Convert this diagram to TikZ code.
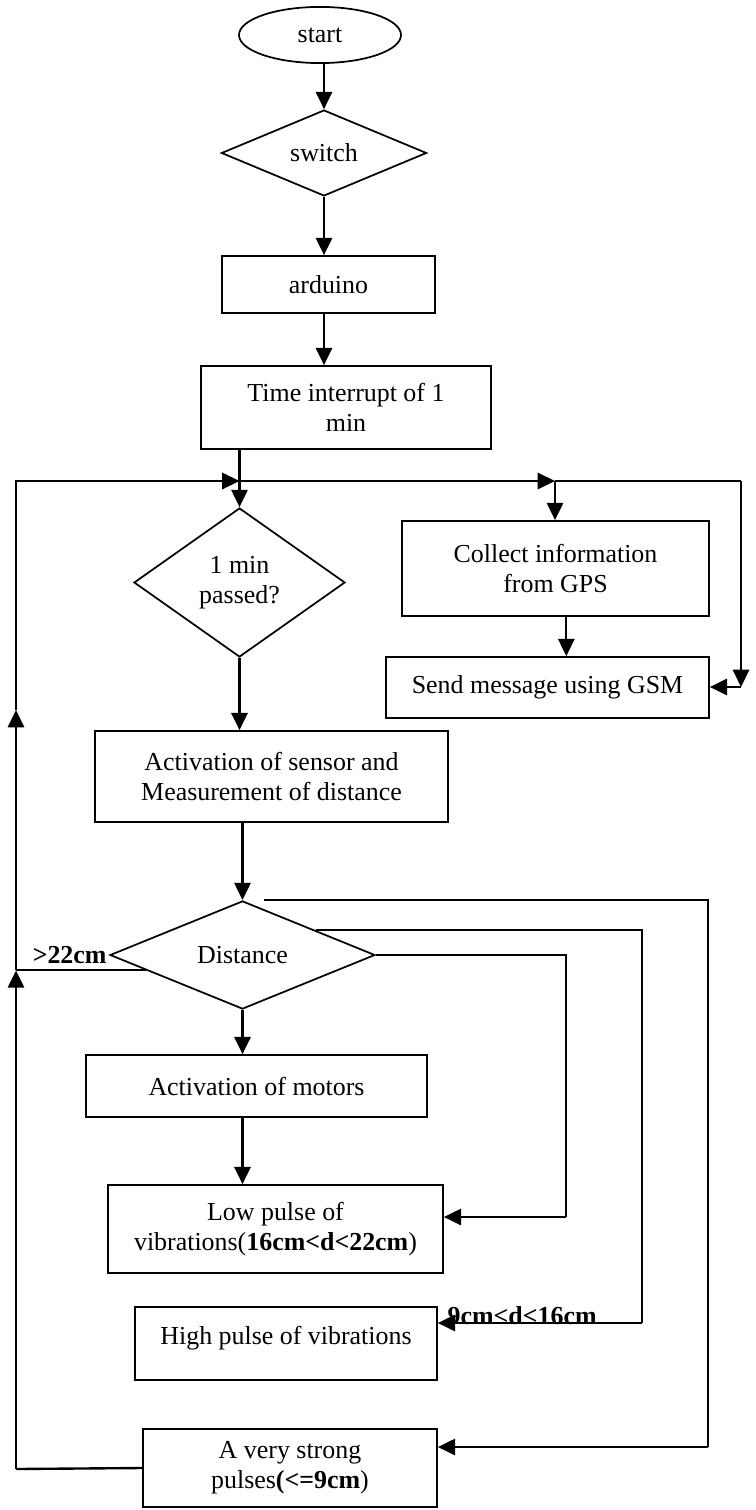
\documentclass[tikz,border=0pt]{standalone}
\usepackage{fontspec}
\setmainfont{Liberation Serif}
\usepackage{tikz}
\usetikzlibrary{arrows.meta,shapes.geometric,calc}

\begin{document}
\begin{tikzpicture}[
  x=0.463pt,y=-0.463pt,
  every node/.style={font=\fontsize{12pt}{13.9pt}\selectfont},
  box/.style={draw,line width=0.8pt,rectangle,align=center,inner sep=2pt},
  decide/.style={draw,line width=0.8pt,diamond,align=center,inner sep=0pt},
  term/.style={draw,line width=0.8pt,ellipse,inner sep=0pt,minimum width=75pt,minimum height=26pt},
  arr/.style={-{Triangle[length=8pt,width=7.5pt]},line width=1.1pt},
  wire/.style={line width=0.9pt},
  back/.style={line width=1.1pt},
  tag/.style={font=\fontsize{12pt}{13.9pt}\selectfont\bfseries,inner sep=1pt}
]
\useasboundingbox (0,0) rectangle (755,1510);
\node[term] (start) at (320,35) {start};
\node[decide,minimum width=95pt,minimum height=35pt] (switch) at (324,153) {switch};
\node[box,minimum width=98.6pt,minimum height=26.4pt] (arduino) at (328.5,284.5) {arduino};
\node[box,minimum width=134.3pt,minimum height=38.4pt] (timer) at (346,407.5) {Time interrupt of 1\\min};
\node[decide,minimum width=97.7pt,minimum height=69pt] (minute) at (239.5,582.5) {1 min\\passed?};
\node[box,minimum width=142.1pt,minimum height=44pt] (gps) at (555.5,568.5) {Collect information\\from GPS};
\node[box,minimum width=149.5pt,minimum height=28.2pt] (gsm) at (547.5,687.5) {Send message using GSM};
\node[box,minimum width=163.4pt,minimum height=42.1pt] (sensor) at (271.5,776.5) {Activation of sensor and\\Measurement of distance};
\node[decide,minimum width=122.7pt,minimum height=48.2pt] (dist) at (242.5,955) {Distance};
\node[box,minimum width=157.9pt,minimum height=28.7pt] (motors) at (256.5,1086) {Activation of motors};
\node[box,minimum width=155.1pt,minimum height=40.7pt] (low) at (275.5,1229) {Low pulse of\\vibrations(\textbf{16cm<d<22cm})};
\node[box,minimum width=139.8pt,minimum height=33.8pt,text depth=8pt] (high) at (286,1343.5) {High pulse of vibrations};
\node[box,minimum width=136.1pt,minimum height=36.1pt] (strong) at (290,1468) {A very strong\\pulses\textbf{(<=9cm})};
\node[tag,anchor=east] (farlbl) at (dist.west) {>22cm};
\node[tag,anchor=base west] (midlbl) at (445,1324) {9cm<d<16cm};
% loop corners
\coordinate (hub) at (239.5,481);
\coordinate (gpsin) at (555,481);
\coordinate (ne) at (741,481);
\coordinate (gsmin) at (741,687);
\coordinate (nw) at (16,481);
\coordinate (wmid) at (16,710);
\coordinate (sw) at (16,1469);
\coordinate (dleft) at ($(dist.west)!0.28!(dist.south)$);
% main line
\draw[arr] (start.south -| switch.north) -- (switch.north);
\draw[arr] (switch) -- (switch |- arduino.north);
\draw[arr] (arduino.south -| switch.south) -- (switch.south |- timer.north);
\draw[arr] (timer.south -| hub) -- (minute.north);
\draw[arr] (minute) -- (minute |- sensor.north);
\draw[arr] (sensor.south -| dist.north) -- (dist.north);
\draw[arr] (dist) -- (dist |- motors.north);
\draw[arr] (motors.south -| dist.south) -- (dist.south |- low.north);
% gps and gsm
\draw[arr] (hub) -- (gpsin);
\draw[back] (gpsin) -- (ne);
\draw[arr] (gpsin) -- (gpsin |- gps.north);
\draw[arr] ([xshift=5pt]gps.south) -- ([xshift=5pt]gps.south |- gsm.north);
\draw[arr] (ne) -- (gsmin);
\draw[arr] (gsmin) -- (gsmin -| gsm.east);
% distance branches
\draw[wire] ([xshift=10pt]dist.north) -| (708,1447) coordinate (e3);
\draw[arr] (e3) -- (e3 -| strong.east);
\draw[wire] ($(dist.north)!0.55!(dist.east)$) -| (642,1323) coordinate (e2);
\draw[arr] (e2) -- (e2 -| high.east);
\draw[wire] (dist.east) -| (566,1217) coordinate (e1);
\draw[arr] (e1) -- (e1 -| low.east);
% way back
\draw[back] (strong.west) -- (sw);
\draw[wire] (dleft) -- (dleft -| sw) coordinate (wjoin);
\draw[arr] (sw) -- (wjoin);
\draw[arr] (wjoin) -- (wmid);
\draw[arr] (wmid) -- (nw) -- (hub);
\end{tikzpicture}
\end{document}
